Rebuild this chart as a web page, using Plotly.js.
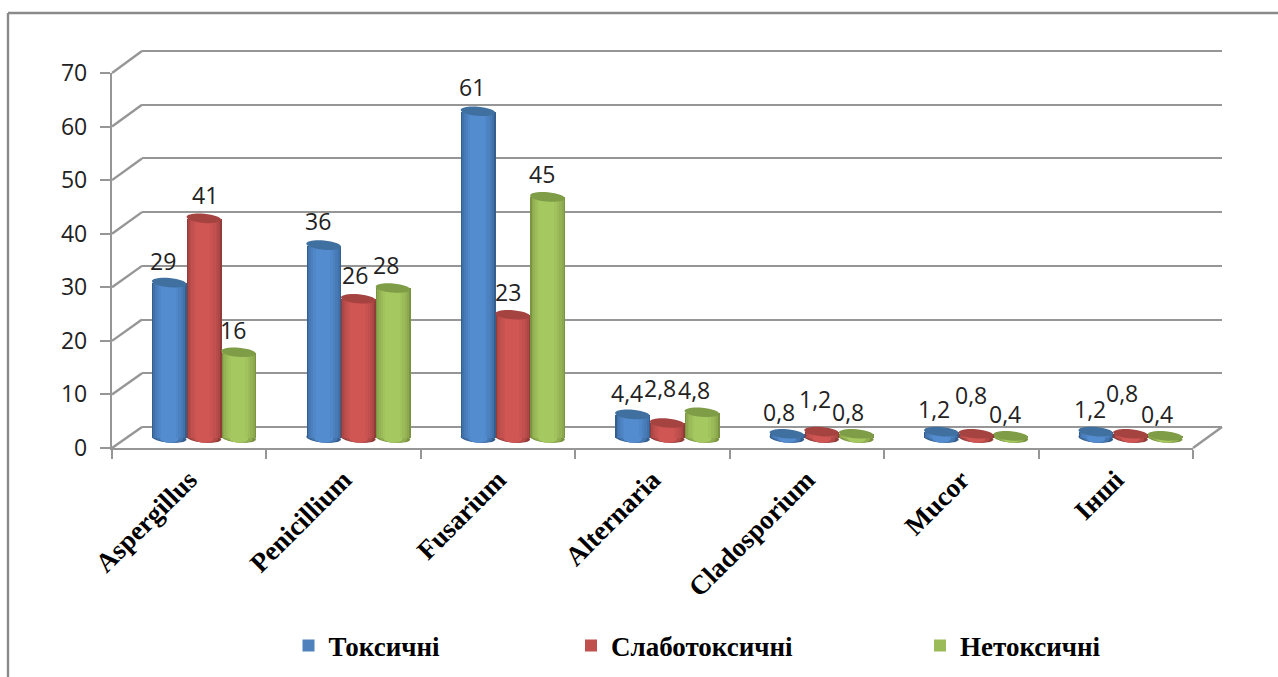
<!DOCTYPE html>
<html><head><meta charset="utf-8">
<script src="https://cdn.plot.ly/plotly-3.0.0.min.js"></script>
<style>html,body{margin:0;padding:0;background:#fff}#chart{width:1278px;height:677px}</style>
</head><body><div id="chart"></div>
<script>
// ---- data ----
const categories = ["Aspergillus","Penicillium","Fusarium","Alternaria","Cladosporium","Mucor","Інші"];
const toxic      = [29,36,61,4.4,0.8,1.2,1.2];
const weakToxic  = [41,26,23,2.8,1.2,0.8,0.8];
const nonToxic   = [16,28,45,4.8,0.8,0.4,0.4];
const seriesNames = ["Токсичні","Слаботоксичні","Нетоксичні"];
const yTicks = [0,10,20,30,40,50,60,70];

// ---- styling ----
const W=1278,H=677;
const FRONT={l:112,r:1193,b:448,t:73};   // front plane of the 3D box
const BACK ={l:142,r:1222,b:427,t:51};   // back wall
const BARS ={l:126.7,r:1207.7,b:438,t:63};// plane the bars stand on
const PAD=4; // value units of room kept below 0 and above 70 so end caps and edge gridlines are not clipped
const GRID='#969696', GW=2.4;
const LABEL_FONT='"Open Sans", sans-serif', SERIF='"Liberation Serif", serif';
const palette=[
 {mid:'#4F81BD',edge:[52,94,142],hi:[84,140,208],top:'#40709f'},
 {mid:'#C0504D',edge:[146,60,58],hi:[208,86,84],top:'#a54341'},
 {mid:'#9BBB59',edge:[122,148,66],hi:[166,200,96],top:'#7f9c46'}];
const values=[toxic,weakToxic,nonToxic];
const barW=0.2247;
const bands=[1,0.92,0.82,0.7,0.56,0.42];
const dom=(a,b,t)=>[a/t,b/t];
function paddedY(p){
  const u=(p.b-p.t)/70;
  return [1-(p.b+PAD*u)/H,1-(p.t-PAD*u)/H];
}
function mix(a,b,t){return 'rgb('+a.map((v,i)=>Math.round(v+(b[i]-v)*t)).join(',')+')';}
const fmt=v=>String(v).replace('.',',');

const traces=[];
traces.push({type:'scatter',x:categories,y:yTicks.slice(0,7),xaxis:'x',yaxis:'y',mode:'none',showlegend:false,hoverinfo:'skip'});
traces.push({type:'scatter',x:categories,y:yTicks.slice(0,7),xaxis:'x2',yaxis:'y2',mode:'none',showlegend:false,hoverinfo:'skip'});
values.forEach((vals,s)=>{
  const c=(s-1)*barW-barW/2;
  traces.push({type:'bar',name:seriesNames[s],x:categories,y:vals,xaxis:'x3',yaxis:'y3',width:barW,offset:c,
    marker:{color:palette[s].mid,line:{width:0}},legend:s?('legend'+(s+1)):'legend',hoverinfo:'name+y',showlegend:true});
  bands.forEach((f,i)=>{
    const w=barW*f, t=i/(bands.length-1);
    traces.push({type:'bar',x:categories,y:vals,xaxis:'x3',yaxis:'y3',width:w,offset:c+(barW-w)/2-barW*0.03*t,
      marker:{color:mix(palette[s].edge,palette[s].hi,Math.pow(t,0.55)),line:{width:0}},showlegend:false,hoverinfo:'skip'});
  });
});

// ---- shapes ----
const pxX=(BARS.r-BARS.l)/categories.length;
const pxY=(BARS.b-BARS.t)/70;
function ellipsePath(cx,cy,rxPx,ryPx,tiltDeg){
  const th=tiltDeg*Math.PI/180,k=0.5523;
  const pt=(u,v)=>{
    const X=u*Math.cos(th)-v*Math.sin(th),Y=u*Math.sin(th)+v*Math.cos(th);
    return (cx+X/pxX).toFixed(4)+','+(cy+Y/pxY).toFixed(4);};
  const a=rxPx,b=ryPx;
  return 'M'+pt(a,0)+'C'+pt(a,k*b)+' '+pt(k*a,b)+' '+pt(0,b)+'C'+pt(-k*a,b)+' '+pt(-a,k*b)+' '+pt(-a,0)
    +'C'+pt(-a,-k*b)+' '+pt(-k*a,-b)+' '+pt(0,-b)+'C'+pt(k*a,-b)+' '+pt(a,-k*b)+' '+pt(a,0)+'Z';
}
const shapes=[];
shapes.push({type:'line',xref:'paper',yref:'paper',x0:8/W,x1:1,y0:1-13/H,y1:1-13/H,line:{color:'#8a8a8a',width:2.4}});
shapes.push({type:'line',xref:'paper',yref:'paper',x0:8/W,x1:8/W,y0:1-13/H,y1:0,line:{color:'#8a8a8a',width:2.4}});
yTicks.forEach(v=>{
  const yf=FRONT.b-(FRONT.b-FRONT.t)*v/70, yb=BACK.b-(BACK.b-BACK.t)*v/70;
  shapes.push({type:'line',layer:'below',xref:'paper',yref:'paper',x0:FRONT.l/W,x1:BACK.l/W,y0:1-yf/H,y1:1-yb/H,line:{color:GRID,width:GW}});
});
shapes.push({type:'line',layer:'below',xref:'paper',yref:'paper',x0:FRONT.r/W,x1:BACK.r/W,y0:1-FRONT.b/H,y1:1-BACK.b/H,line:{color:GRID,width:GW}});
values.forEach((vals,s)=>{
  vals.forEach((v,i)=>{
    const cx=i+(s-1)*barW;
    [1,0.8,0.55].forEach((f,j)=>{
      shapes.push({type:'path',layer:'between',xref:'x3',yref:'y3',path:ellipsePath(cx,0,17.4*f,4.6,-5),
        fillcolor:mix(palette[s].edge,palette[s].hi,j/2),line:{width:0}});
    });
    shapes.push({type:'path',layer:'above',xref:'x3',yref:'y3',path:ellipsePath(cx,v,17.4,4.6,-5),
      fillcolor:palette[s].top,line:{width:0}});
  });
});

// ---- data label nudges (px from the bar top) ----
const labelNudge=[
 [[-6,-22],[-6,-24],[-6,-24],[-6,-21],[-8,-22],[-7,-23],[-6,-23]],
 [[1,-23],[-3,-24],[-5,-23],[-7,-35],[-7,-33],[-5,-39],[-8,-41]],
 [[-6,-22],[-7,-23],[-5,-23],[-8,-22],[-8,-22],[-6,-22],[-8,-22]]];
const annotations=[];
values.forEach((vals,s)=>vals.forEach((v,i)=>{
  annotations.push({xref:'x3',yref:'y3',x:i+(s-1)*barW,y:v,text:fmt(v),showarrow:false,
    xshift:labelNudge[s][i][0],yshift:-labelNudge[s][i][1],
    font:{family:LABEL_FONT,size:23,color:'#222'}});
}));

const axisBase={showgrid:false,zeroline:false,showline:false};
const layout={
  width:W,height:H,margin:{l:0,r:0,t:0,b:0},paper_bgcolor:'#fff',plot_bgcolor:'rgba(0,0,0,0)',
  barmode:'overlay',bargap:0,
  shapes,annotations,
  xaxis:{domain:dom(FRONT.l,FRONT.r,W),type:'category',categoryorder:'array',categoryarray:categories,range:[-0.5,6.5],
    anchor:'y',showline:true,linecolor:GRID,linewidth:GW,zeroline:false,showgrid:false,
    tickson:'boundaries',ticks:'outside',ticklen:9,tickwidth:GW,tickcolor:GRID,tickangle:-45,ticklabelstandoff:3,
    tickfont:{family:SERIF,size:27,color:'#000',weight:700},automargin:false},
  yaxis:{domain:[1-FRONT.b/H,1-FRONT.t/H],range:[0,70],tickvals:yTicks,anchor:'x',showline:true,linecolor:GRID,linewidth:GW,
    zeroline:false,showgrid:false,ticks:'outside',ticklen:10,tickwidth:GW,tickcolor:GRID,ticklabelstandoff:8,
    tickfont:{family:LABEL_FONT,size:23,color:'#222'},automargin:false},
  xaxis2:Object.assign({domain:dom(BACK.l,BACK.r,W),anchor:'y2',type:'category',range:[-0.5,6.5],showticklabels:false,ticks:''},axisBase),
  yaxis2:{domain:paddedY(BACK),range:[-PAD,70+PAD],anchor:'x2',tickvals:yTicks,showticklabels:false,ticks:'',showline:false,
    showgrid:true,gridcolor:GRID,gridwidth:GW,zeroline:false},
  xaxis3:Object.assign({domain:dom(BARS.l,BARS.r,W),anchor:'y3',type:'category',categoryorder:'array',categoryarray:categories,range:[-0.5,6.5],showticklabels:false,ticks:''},axisBase),
  yaxis3:Object.assign({domain:paddedY(BARS),range:[-PAD,70+PAD],anchor:'x3',showticklabels:false,ticks:''},axisBase),
  showlegend:true
};
const legendBase={orientation:'h',xanchor:'left',yanchor:'middle',bgcolor:'rgba(0,0,0,0)',borderwidth:0,
  font:{family:SERIF,size:27,color:'#000',weight:700},y:1-646/H,itemclick:false,itemdoubleclick:false};
layout.legend =Object.assign({},legendBase,{x:(288.5)/W});
layout.legend2=Object.assign({},legendBase,{x:(571)/W});
layout.legend3=Object.assign({},legendBase,{x:(920)/W});

Plotly.newPlot('chart',traces,layout,{displayModeBar:false,responsive:false});
</script></body></html>
